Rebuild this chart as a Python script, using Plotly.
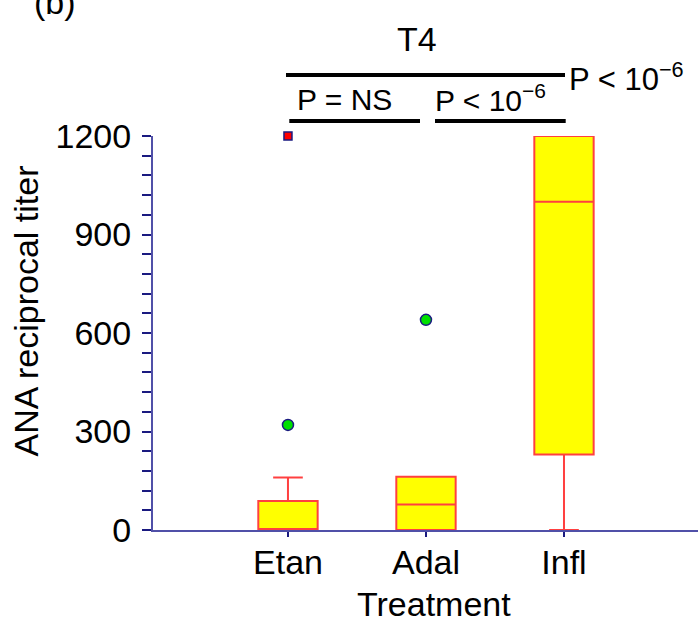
import plotly.graph_objects as go

# ---- data ----
categories = ["Etan", "Adal", "Infl"]
q1 = [0, 0, 230]
median = [0, 78, 1000]
q3 = [88, 162, 1200]
lower_fence = [0, 0, 0]
upper_fence = [160, 162, 1200]

outlier_green_x = ["Etan", "Adal"]
outlier_green_y = [320, 640]
outlier_red_x = ["Etan"]
outlier_red_y = [1200]

y_ticks = [0, 300, 600, 900, 1200]

FONT = "Liberation Sans, Arial, sans-serif"
BOX_RED = "#ff4040"
NAVY = "#1a1a80"
AXIS = "#5050a8"

fig = go.Figure()
fig.add_trace(go.Box(
    x=categories, q1=q1, median=median, q3=q3,
    lowerfence=lower_fence, upperfence=upper_fence,
    fillcolor="#ffff00", line=dict(color=BOX_RED, width=2),
    width=0.43, whiskerwidth=0.5, boxpoints=False, showlegend=False,
))
fig.add_trace(go.Scatter(
    x=outlier_green_x, y=outlier_green_y, mode="markers", cliponaxis=False,
    marker=dict(symbol="circle", size=11, color="#00e000", line=dict(color=NAVY, width=1.5)),
    showlegend=False,
))
fig.add_trace(go.Scatter(
    x=outlier_red_x, y=outlier_red_y, mode="markers", cliponaxis=False,
    marker=dict(symbol="square", size=8, color="#ff0000", line=dict(color=NAVY, width=1.5)),
    showlegend=False,
))

L, T, W, H = 153, 136, 545, 394
def px(xp):
    return (xp - L) / W
def py(yp):
    return (T + H - yp) / H

fig.update_layout(
    width=698, height=623,
    margin=dict(l=L, r=698 - L - W, t=T, b=623 - T - H),
    paper_bgcolor="white", plot_bgcolor="white",
    font=dict(family=FONT, size=34, color="black"),
    xaxis=dict(
        type="category", range=[-0.978, 2.971],
        showline=True, linecolor=AXIS, linewidth=2,
        ticks="outside", ticklen=5, tickcolor=NAVY, tickwidth=1.5,
        showgrid=False, zeroline=False, layer="below traces",
        tickfont=dict(size=34), ticklabelstandoff=-4,
    ),
    yaxis=dict(
        range=[0, 1200], tickvals=y_ticks,
        showline=True, linecolor=AXIS, linewidth=2,
        ticks="outside", ticklen=9, tickcolor=NAVY, tickwidth=1.5,
        minor=dict(dtick=60, ticks="outside", ticklen=9, tickcolor=NAVY, tickwidth=1.5),
        showgrid=False, zeroline=False, layer="below traces",
        tickfont=dict(size=34), ticklabelstandoff=4,
    ),
)

ann = []
ann.append(dict(text="T4", x=px(416.7), y=py(39), xref="paper", yref="paper",
                showarrow=False, xanchor="center", yanchor="middle", font=dict(size=34)))
ann.append(dict(text="P = NS", x=px(295), y=py(100), xref="paper", yref="paper",
                showarrow=False, xanchor="left", yanchor="middle", font=dict(size=30)))
ann.append(dict(text="P < 10<sup>\u22126</sup>", x=px(433), y=py(98), xref="paper", yref="paper",
                showarrow=False, xanchor="left", yanchor="middle", font=dict(size=30)))
ann.append(dict(text="P < 10<sup>\u22126</sup>", x=px(567), y=py(77), xref="paper", yref="paper",
                showarrow=False, xanchor="left", yanchor="middle", font=dict(size=31)))
ann.append(dict(text="ANA reciprocal titer", x=px(25), y=py(311.5), xref="paper", yref="paper",
                showarrow=False, xanchor="center", yanchor="middle", textangle=-90, font=dict(size=34)))
ann.append(dict(text="Treatment", x=px(434.5), y=py(604), xref="paper", yref="paper",
                showarrow=False, xanchor="center", yanchor="middle", font=dict(size=34)))
ann.append(dict(text="(b)", x=px(55), y=py(23), xref="paper", yref="paper",
                showarrow=False, xanchor="center", yanchor="bottom", font=dict(size=34)))
fig.update_layout(annotations=ann)

lines = [(286, 565, 75), (289.3, 420, 121), (435, 565.7, 121)]
for x0, x1, yy in lines:
    fig.add_shape(type="line", xref="paper", yref="paper",
                  x0=px(x0), x1=px(x1), y0=py(yy), y1=py(yy),
                  line=dict(color="black", width=4))

fig.write_html("out.html", config={"displayModeBar": False},
               post_script="document.body.style.margin='0';document.body.style.overflow='hidden';")
